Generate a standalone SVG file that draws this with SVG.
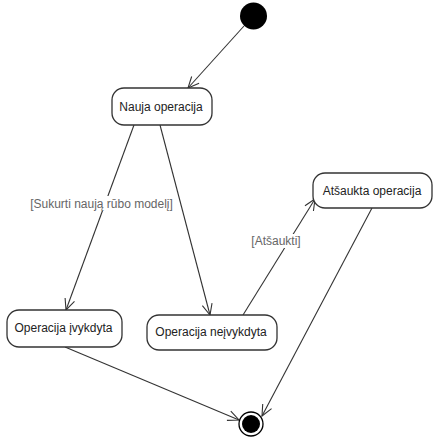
<svg xmlns="http://www.w3.org/2000/svg" width="437" height="438" viewBox="0 0 437 438">
<defs>
<style>
.st{fill:#fff;stroke:#333;stroke-width:1.3}
.lbl{font-family:"Liberation Sans",Arial,sans-serif;font-size:12px;fill:#222;text-anchor:middle}
.g{font-family:"Liberation Sans",Arial,sans-serif;font-size:12px;fill:#666;text-anchor:middle}
.c{fill:none;stroke:#333;stroke-width:1.1}
.bg{fill:#fff}
</style>
<marker id="a" markerUnits="userSpaceOnUse" markerWidth="14" markerHeight="14" viewBox="-12 -7 14 14" refX="0" refY="0" orient="auto">
<path d="M-11,-5 L0,0 L-11,5" fill="none" stroke="#333" stroke-width="1.1"/>
</marker>
</defs>
<rect width="437" height="438" fill="#fff"/>
<g id="connectors">
<line class="c" x1="244" y1="26" x2="188" y2="88" marker-end="url(#a)"/>
<line class="c" x1="134" y1="125" x2="66" y2="310" marker-end="url(#a)"/>
<line class="c" x1="160" y1="125" x2="210" y2="315" marker-end="url(#a)"/>
<line class="c" x1="243" y1="315" x2="315" y2="199" marker-end="url(#a)"/>
<line class="c" x1="372" y1="208" x2="262" y2="416" marker-end="url(#a)"/>
<line class="c" x1="65" y1="347" x2="239" y2="420" marker-end="url(#a)"/>
<rect class="bg" x="29" y="196" width="145" height="15"/>
<text class="g" x="101.5" y="208">[Sukurti naują rūbo modelį]</text>
<rect class="bg" x="249" y="234" width="54" height="14"/>
<text class="g" x="276" y="245">[Atšaukti]</text>
</g>
<g id="start"><circle cx="253.5" cy="16" r="13.5" fill="#000"/></g>
<g id="nauja"><rect class="st" x="112" y="88" width="100" height="37" rx="12"/><text class="lbl" x="161" y="111">Nauja operacija</text></g>
<g id="ivykdyta"><rect class="st" x="7" y="310" width="115" height="37" rx="12"/><text class="lbl" x="63.5" y="332">Operacija įvykdyta</text></g>
<g id="neivykdyta"><rect class="st" x="147" y="315" width="130" height="35" rx="12"/><text class="lbl" x="211" y="336">Operacija neįvykdyta</text></g>
<g id="atsaukta"><rect class="st" x="313" y="173" width="119" height="35" rx="12"/><text class="lbl" x="372" y="195">Atšaukta operacija</text></g>
<g id="end"><circle cx="251" cy="424" r="12" fill="#fff" stroke="#000" stroke-width="1.3"/><circle cx="251" cy="424" r="9" fill="#000"/></g>
</svg>
